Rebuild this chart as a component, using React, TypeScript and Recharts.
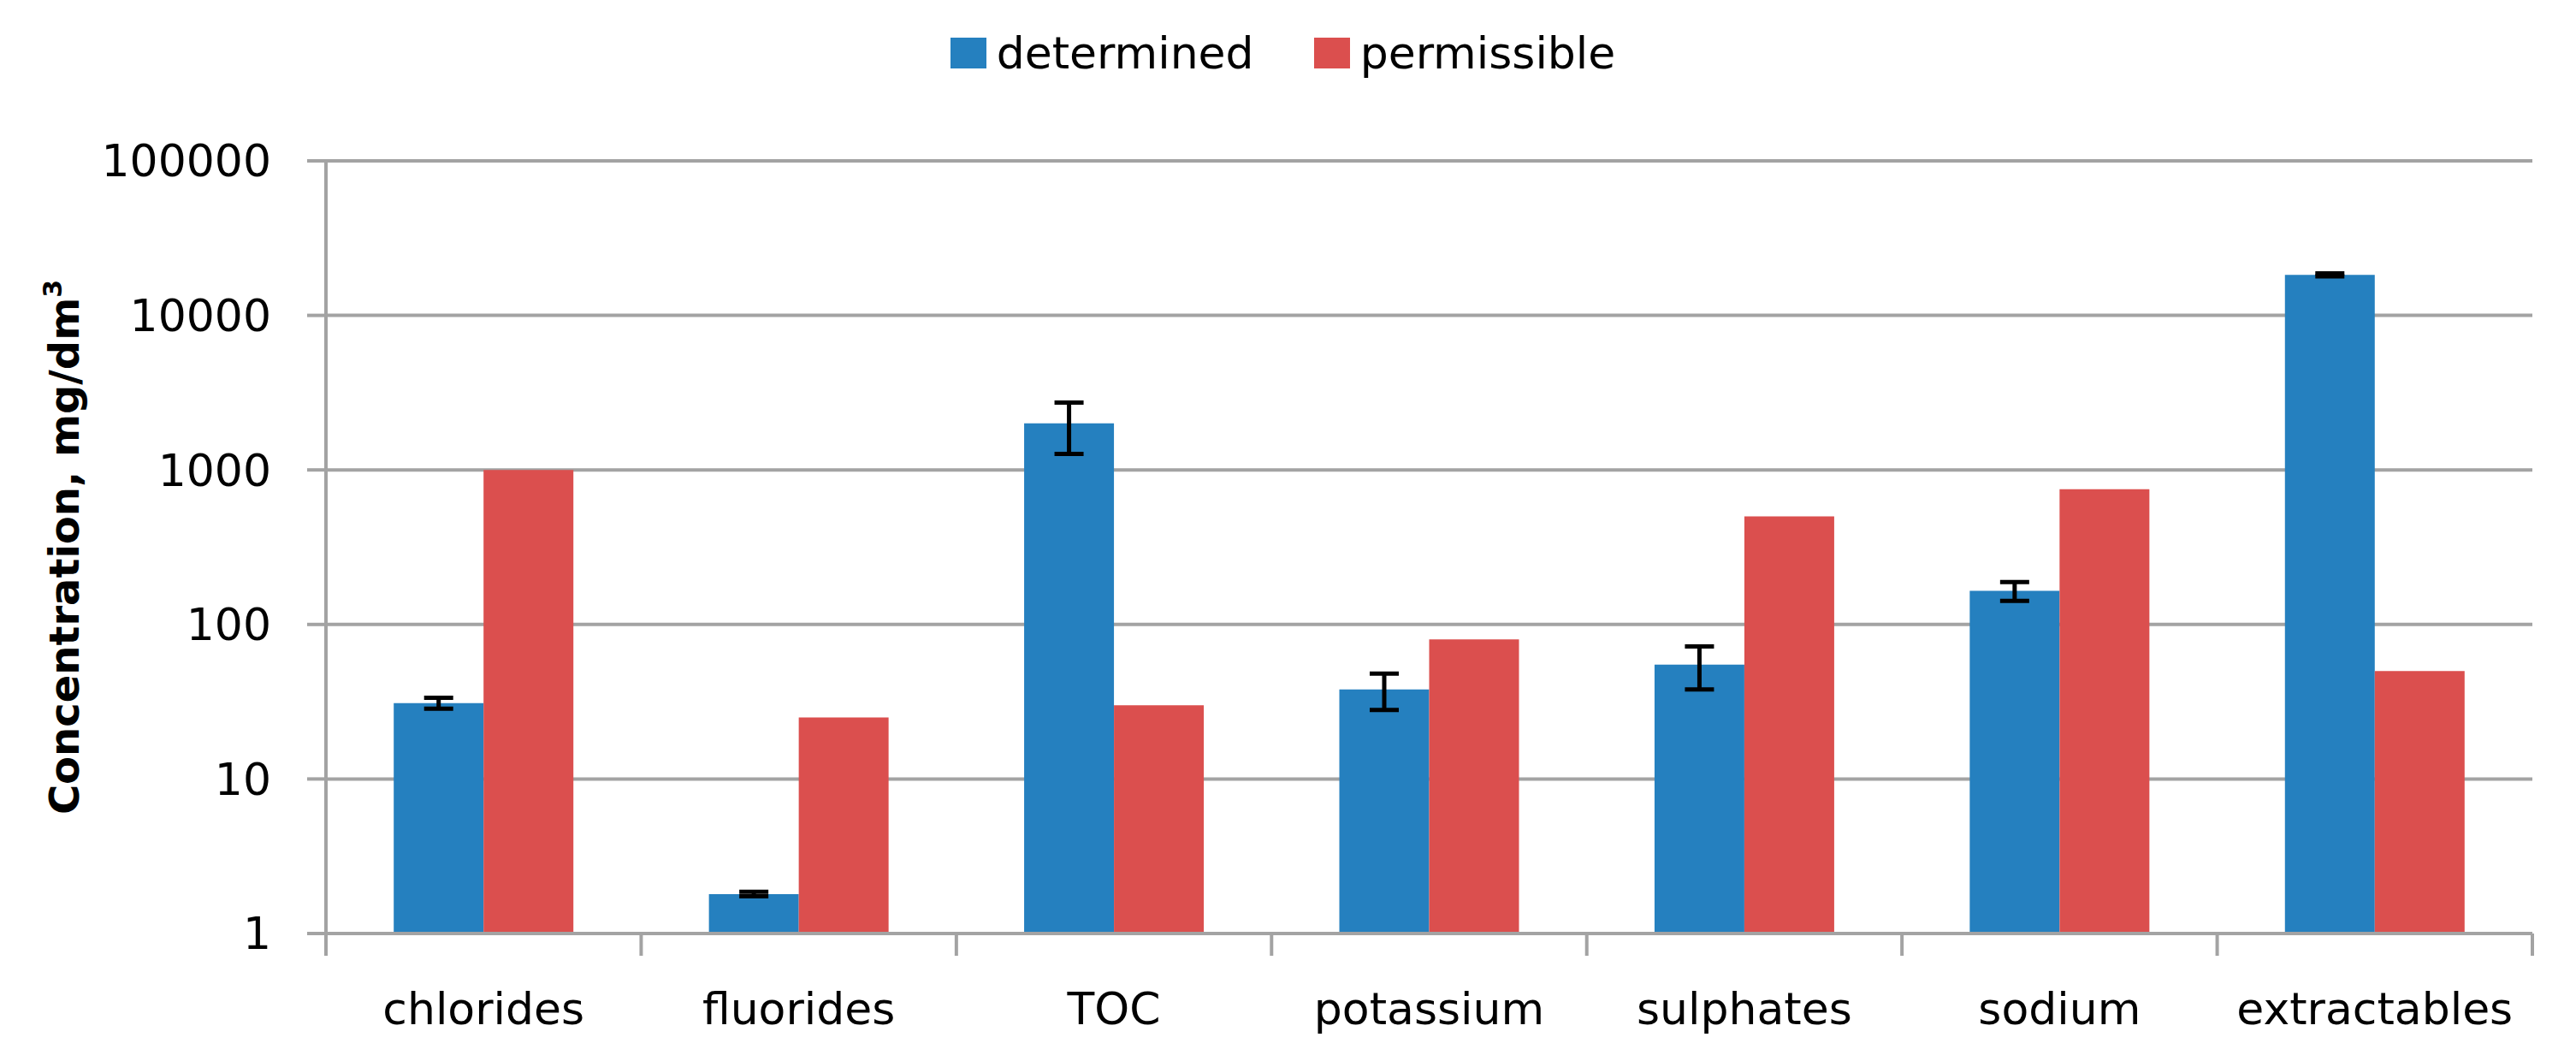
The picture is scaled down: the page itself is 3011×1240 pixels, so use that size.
import React from 'react';
import { BarChart, Bar, XAxis, YAxis, CartesianGrid, Legend, ErrorBar, Label } from 'recharts';

const categories = ['chlorides', 'fluorides', 'TOC', 'potassium', 'sulphates', 'sodium', 'extractables'];
const determined = [31, 1.8, 2000, 38, 55, 165, 18300];
const determinedError = [2.5, 0.06, 730, 10, 17, 23, 400];
const permissible = [1000, 25, 30, 80, 500, 750, 50];
const yTicks = [1, 10, 100, 1000, 10000, 100000];

const data = categories.map((name, i) => ({
  name,
  determined: determined[i],
  determinedErr: determinedError[i],
  permissible: permissible[i],
}));

const FONT = '"DejaVu Sans", Verdana, sans-serif';
const GRID = '#a3a3a3';
const BLUE = '#2580bf';
const RED = '#db4f4e';

const CategoryTick = (props: any) => {
  const { x, y, payload, index, width, visibleTicksCount } = props;
  const band = Number(width) / Number(visibleTicksCount);
  const left = x - band / 2;
  const right = x + band / 2;
  return (
    <g>
      <line x1={left} x2={left} y1={y} y2={y + 26} stroke={GRID} strokeWidth={4} />
      {index === visibleTicksCount - 1 && (
        <line x1={right} x2={right} y1={y} y2={y + 26} stroke={GRID} strokeWidth={4} />
      )}
      <text x={x} y={y + 69} dy="0.71em" textAnchor="middle" fontSize={52} fill="#000" fontFamily={FONT}>
        {payload.value}
      </text>
    </g>
  );
};

const YLabel = (props: any) => {
  const vb = props.viewBox || { x: 0, y: 0, width: 0, height: 0 };
  const cx = vb.x + 92;
  const cy = vb.y + vb.height / 2;
  return (
    <text
      x={cx}
      y={cy}
      transform={`rotate(-90, ${cx}, ${cy})`}
      textAnchor="middle"
      fontFamily={FONT}
      fontWeight="bold"
      fontSize={48}
      fill="#000"
    >
      <tspan>Concentration, mg/dm</tspan>
      <tspan dy={-20} fontSize={30}>3</tspan>
    </text>
  );
};

const LegendContent = (props: any) => {
  const payload = props.payload || [];
  return (
    <div
      style={{
        display: 'flex',
        justifyContent: 'center',
        alignItems: 'center',
        height: 60,
        fontFamily: FONT,
        fontSize: 52,
        color: '#000',
        paddingRight: 12,
      }}
    >
      {payload.map((p: any, i: number) => (
        <div key={p.value} style={{ display: 'flex', alignItems: 'center', marginLeft: i ? 70 : 0 }}>
          <span style={{ display: 'inline-block', width: 42, height: 36, background: p.color, marginRight: 12 }} />
          <span>{p.value}</span>
        </div>
      ))}
    </div>
  );
};

export default function App() {
  return (
    <div style={{ position: 'absolute', left: 0, top: 0, width: 3011, height: 1240, background: '#fff' }}>
      <BarChart
        width={3011}
        height={1240}
        data={data}
        margin={{ top: 128, right: 51, bottom: 0, left: 0 }}
        barCategoryGap="21.5%"
        barGap={0}
      >
        <CartesianGrid horizontal vertical={false} stroke={GRID} strokeWidth={4} />
        <XAxis
          dataKey="name"
          height={149}
          tickLine={false}
          tickSize={0}
          tickMargin={0}
          axisLine={{ stroke: GRID, strokeWidth: 4 }}
          tick={<CategoryTick />}
          interval={0}
        />
        <YAxis
          type="number"
          scale="log"
          domain={[1, 100000]}
          ticks={yTicks}
          allowDataOverflow
          width={381}
          tickSize={22}
          tickMargin={42}
          tickLine={{ stroke: GRID, strokeWidth: 4 }}
          axisLine={{ stroke: GRID, strokeWidth: 4 }}
          tick={{ fontSize: 52, fill: '#000', fontFamily: FONT }}
          tickFormatter={(v: number) => String(v)}
          interval={0}
        >
          <Label content={<YLabel />} />
        </YAxis>
        <Legend
          verticalAlign="top"
          align="center"
          content={<LegendContent />}
          wrapperStyle={{ top: 32, left: 0, width: 3011, height: 60 }}
        />
        <Bar dataKey="determined" name="determined" fill={BLUE} isAnimationActive={false}>
          <ErrorBar dataKey="determinedErr" width={17} strokeWidth={5} stroke="#000" />
        </Bar>
        <Bar dataKey="permissible" name="permissible" fill={RED} isAnimationActive={false} />
      </BarChart>
    </div>
  );
}
